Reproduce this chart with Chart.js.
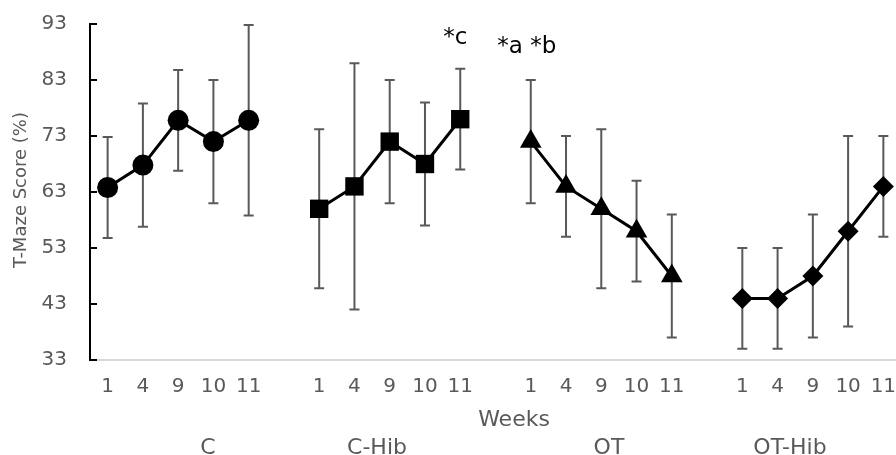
<!DOCTYPE html>
<html>
<head>
<meta charset="utf-8">
<script src="https://cdn.jsdelivr.net/npm/chart.js@4"></script>
<style>
  html, body { margin: 0; padding: 0; background: #fff; }
  #wrap { width: 896px; height: 455px; overflow: hidden; }
</style>
</head>
<body>
<div id="wrap"><canvas id="mazeChart" width="920" height="455"></canvas></div>
<script>
// DATA

const groups = ["C", "C-Hib", "OT", "OT-Hib"];
const weeks = ["1", "4", "9", "10", "11"];
const yTicks = [33, 43, 53, 63, 73, 83, 93];

const cMean = [63.8, 67.8, 75.8, 72, 75.8];
const cErr = [9, 11, 9, 11, 17];
const cHibMean = [60, 64, 72, 68, 76];
const cHibErr = [14.2, 22, 11, 11, 9];
const otMean = [72, 64, 60, 56, 48];
const otErr = [11, 9, 14.2, 9, 11];
const otHibMean = [44, 44, 48, 56, 64];
const otHibErr = [9, 9, 11, 17, 9];

const means = [cMean, cHibMean, otMean, otHibMean];
const errs = [cErr, cHibErr, otErr, otHibErr];

// significance marks: [group index, week index, text]
const marks = [
    [1, 4, "*c"],
    [2, 0, "*a *b"]
];

// BUILD CATEGORY LAYOUT (one empty slot between groups)

const labels = [];
groups.forEach((g, gi) => {
    weeks.forEach(w => labels.push(w));
    if (gi < groups.length - 1) labels.push("");
});

const slot = (gi, wi) => gi * (weeks.length + 1) + wi;

const pointStyles = ["circle", "rect", "triangle", "rectRot"];
const pointRadii = [10.5, 13, 12.5, 10.5];

const datasets = groups.map((g, gi) => {
    const data = labels.map(() => null);
    means[gi].forEach((v, wi) => { data[slot(gi, wi)] = v; });
    return {
        label: g,
        data: data,
        borderColor: "#000",
        backgroundColor: "#000",
        borderWidth: 3,
        pointStyle: pointStyles[gi],
        pointRadius: pointRadii[gi],
        pointBorderWidth: 0,
        pointBackgroundColor: "#000",
        spanGaps: false
    };
});

const grey = "#595959";
const font = "DejaVu Sans";

// error bars behind the markers
const errorBars = {
    id: "errorBars",
    beforeDatasetsDraw(chart) {
        const { ctx, scales: { x, y } } = chart;
        ctx.save();
        ctx.strokeStyle = grey;
        ctx.lineWidth = 2;
        groups.forEach((g, gi) => {
            means[gi].forEach((m, wi) => {
                const px = x.getPixelForValue(slot(gi, wi));
                const top = y.getPixelForValue(m + errs[gi][wi]);
                const bot = y.getPixelForValue(m - errs[gi][wi]);
                ctx.beginPath();
                ctx.moveTo(px, top); ctx.lineTo(px, bot);
                ctx.moveTo(px - 5, top); ctx.lineTo(px + 5, top);
                ctx.moveTo(px - 5, bot); ctx.lineTo(px + 5, bot);
                ctx.stroke();
            });
        });
        ctx.restore();
    }
};

// extra text and inner y ticks
const extras = {
    id: "extras",
    afterDraw(chart) {
        const { ctx, chartArea, scales: { x, y } } = chart;
        ctx.save();

        // y ticks pointing inward
        ctx.strokeStyle = "#000";
        ctx.lineWidth = 2;
        yTicks.forEach(v => {
            const py = y.getPixelForValue(v);
            ctx.beginPath();
            ctx.moveTo(chartArea.left, py);
            ctx.lineTo(chartArea.left + 7, py);
            ctx.stroke();
        });

        // y title
        ctx.fillStyle = grey;
        ctx.font = "18px '" + font + "'";
        ctx.textAlign = "center";
        ctx.textBaseline = "middle";
        ctx.save();
        ctx.translate(21, 190);
        ctx.rotate(-Math.PI / 2);
        ctx.fillText("T-Maze Score (%)", 0, 0);
        ctx.restore();

        // x title and group names
        ctx.font = "22px '" + font + "'";
        ctx.fillText("Weeks", 514, 420);
        const groupX = [208, 377, 609, 790];
        groups.forEach((g, gi) => ctx.fillText(g, groupX[gi], 448));

        // significance marks
        ctx.fillStyle = "#000";
        ctx.font = "23px '" + font + "'";
        marks.forEach(([gi, wi, t], i) => {
            const px = x.getPixelForValue(slot(gi, wi));
            const dx = i === 0 ? -5 : -4;
            const py = i === 0 ? 38 : 47;
            ctx.fillText(t, px + dx, py);
        });

        ctx.restore();
    }
};

const ctx = document.getElementById("mazeChart");

new Chart(ctx, {
    type: "line",
    data: { labels: labels, datasets: datasets },
    options: {
        responsive: false,
        animation: false,
        layout: { padding: { left: 0, top: 24, right: 19, bottom: 0 } },
        plugins: {
            legend: { display: false },
            tooltip: { enabled: false }
        },
        scales: {
            x: {
                offset: true,
                grid: { display: false, drawTicks: false },
                border: { display: true, color: "#d9d9d9", width: 2 },
                ticks: {
                    autoSkip: false,
                    maxRotation: 0,
                    padding: 15,
                    color: grey,
                    font: { family: font, size: 20 }
                },
                afterFit(s) { s.height = 95; }
            },
            y: {
                min: 33,
                max: 93,
                grid: { display: false, drawTicks: false },
                border: { display: true, color: "#000", width: 2 },
                ticks: {
                    padding: 23,
                    color: grey,
                    font: { family: font, size: 20 }
                },
                afterBuildTicks(s) { s.ticks = yTicks.map(v => ({ value: v })); },
                afterFit(s) {
                    s.width = 90;
                    s.paddingTop = 0;
                    s.paddingBottom = 0;
                }
            }
        }
    },
    plugins: [errorBars, extras]
});
</script>
</body>
</html>
